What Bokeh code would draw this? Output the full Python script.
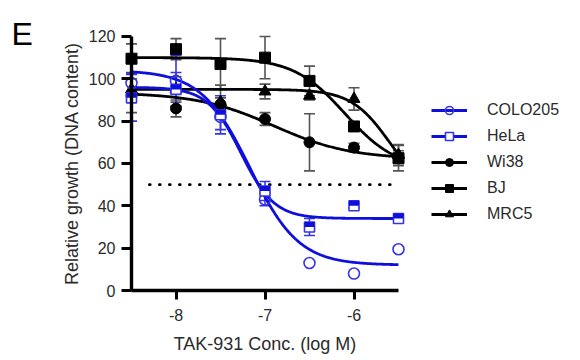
import numpy as np
from bokeh.plotting import figure
from bokeh.models import (ColumnDataSource, Whisker, TeeHead, Legend, LegendItem,
                          Label, FixedTicker, Range1d)
from bokeh.embed import file_html
from bokeh.resources import INLINE

# ---------------- data ----------------
log_conc = [-8.5, -8.0, -7.5, -7.0, -6.5, -6.0, -5.5]

colo205 = [98, 99, 82, 43, 13, 8, 19.5]
colo205_err = [5, 12, 6, 3, 0, 0, 0]
hela = [91, 95, 83, 47, 30, 40, 34]
hela_err = [11, 8, 9, 4.5, 4, 1, 1.5]
wi38 = [92, 86, 88, 81, 70, 67.5, 63]
wi38_err = [8, 4, 3, 3, 13.5, 2, 3]
bj = [109.5, 114, 107, 110, 99, 77.5, 62.5]
bj_err = [7, 5, 12, 10, 7, 2, 6]
mrc5 = [95, 95, 89, 94, 92, 90.5, 64]
mrc5_err = [5, 6, 8, 3.5, 2, 5.3, 5]

# fitted 4-parameter logistic curves: (top, bottom, logIC50, hill slope)
fit_colo205 = (104, 12, -7.17, 1.58)
fit_hela = (96, 34, -7.27, 2.33)
fit_wi38 = (93.5, 62, -6.9, 1.0)
fit_bj = (110, 57, -6.1, 1.5)
fit_mrc5 = (95, 45, -5.6, 2.0)

threshold = 50
threshold_span = (-8.3, -5.5)

x_ticks = [-8, -7, -6]
x_tick_labels = ["-8", "-7", "-6"]
y_ticks = [0, 20, 40, 60, 80, 100, 120]

series_names = ["COLO205", "HeLa", "Wi38", "BJ", "MRC5"]
x_title = "TAK-931 Conc. (log M)"
y_title = "Relative growth (DNA content)"
panel_letter = "E"

# ---------------- styling / geometry ----------------
BLUE = "#0f0fdc"
BLUE_MK = "#3535e8"
BLACK = "#000000"
GREY = "#555555"
TXT = "#2b2b2b"
FONT = "Liberation Sans"

W, H = 570, 356          # canvas size; the plotting frame fills it entirely
AX_X = 131               # canvas px of the y axis (left end of x axis)
AX_Y = 290               # canvas px (from top) of the x axis
PPD = 89.0               # px per log unit
PPU = 2.117              # px per % unit

X0 = log_conc[0] - AX_X / PPD
X1 = X0 + W / PPD
Y0 = y_ticks[0] - (H - AX_Y) / PPU
Y1 = Y0 + H / PPU

p = figure(width=W, height=H, x_range=Range1d(X0, X1), y_range=Range1d(Y0, Y1),
           output_backend="svg", toolbar_location=None, min_border=0)
p.outline_line_color = None
p.grid.visible = False
p.background_fill_color = "white"
p.border_fill_color = "white"


def curve(params):
    top, bottom, ic50, hill = params
    xs = np.linspace(log_conc[0], log_conc[-1], 300)
    ys = bottom + (top - bottom) / (1 + 10 ** ((xs - ic50) * hill))
    return xs, ys


def whiskers(vals, errs, color):
    xs = [x for x, e in zip(log_conc, errs) if e > 0]
    up = [v + e for v, e in zip(vals, errs) if e > 0]
    lo = [v - e for v, e in zip(vals, errs) if e > 0]
    src = ColumnDataSource(dict(x=xs, upper=up, lower=lo))
    w = Whisker(source=src, base="x", upper="upper", lower="lower",
                line_color=color, line_width=1.6,
                upper_head=TeeHead(size=11, line_color=color, line_width=1.6),
                lower_head=TeeHead(size=11, line_color=color, line_width=1.6))
    p.add_layout(w)


# threshold dotted line
p.line(list(threshold_span), [threshold, threshold], line_color=BLACK, line_width=2.6,
       line_dash="1 9", line_cap="round")

# black series
whiskers(wi38, wi38_err, GREY)
whiskers(bj, bj_err, GREY)
whiskers(mrc5, mrc5_err, GREY)

xs, ys = curve(fit_wi38)
l_wi38 = p.line(xs, ys, line_color=BLACK, line_width=2.8)
xs, ys = curve(fit_bj)
l_bj = p.line(xs, ys, line_color=BLACK, line_width=2.8)
xs, ys = curve(fit_mrc5)
l_mrc5 = p.line(xs, ys, line_color=BLACK, line_width=2.8)

m_wi38 = p.scatter(log_conc, wi38, marker="circle", size=11, fill_color=BLACK, line_color=BLACK)
m_bj = p.scatter(log_conc, bj, marker="square", size=11, fill_color=BLACK, line_color=BLACK)
m_mrc5 = p.scatter(log_conc, mrc5, marker="triangle", size=12, fill_color=BLACK, line_color=BLACK)

# blue series
whiskers(colo205, colo205_err, BLUE_MK)
whiskers(hela, hela_err, BLUE_MK)

xs, ys = curve(fit_colo205)
l_colo = p.line(xs, ys, line_color=BLUE, line_width=2.8)
xs, ys = curve(fit_hela)
l_hela = p.line(xs, ys, line_color=BLUE, line_width=2.8)

m_colo = p.scatter(log_conc, colo205, marker="circle", size=11, fill_color=None,
                   line_color=BLUE_MK, line_width=1.6)
m_hela = p.scatter(log_conc, hela, marker="square", size=10, fill_color="white",
                   line_color=BLUE_MK, line_width=1.6)
half_off = 2.5 / PPU
p.rect(log_conc, [v + half_off for v in hela], width=10, height=5,
       width_units="screen", height_units="screen", fill_color=BLUE, line_color=None)

# ---------------- axes (placed at fixed data locations inside the frame) ----------------
for ax in (p.xaxis[0], p.yaxis[0]):
    ax.axis_line_width = 3.4
    ax.axis_line_color = BLACK
    ax.major_tick_line_width = 3
    ax.major_tick_line_color = BLACK
    ax.major_tick_in = 0
    ax.minor_tick_line_color = None
    ax.major_label_text_font = FONT
    ax.major_label_text_font_size = "16px"
    ax.major_label_text_color = TXT
    ax.axis_label = None

xa = p.xaxis[0]
xa.ticker = FixedTicker(ticks=x_ticks)
xa.major_label_overrides = {t: s for t, s in zip(x_ticks, x_tick_labels)}
xa.bounds = (log_conc[0], log_conc[-1])
xa.fixed_location = y_ticks[0]
xa.major_tick_out = 9
xa.major_label_standoff = 9

ya = p.yaxis[0]
ya.ticker = FixedTicker(ticks=y_ticks)
ya.bounds = (y_ticks[0], y_ticks[-1])
ya.fixed_location = log_conc[0]
ya.major_tick_out = 10
ya.major_label_standoff = 6

# axis titles and panel letter
x_mid = (log_conc[0] + log_conc[-1]) / 2
y_mid = (y_ticks[0] + y_ticks[-1]) / 2
p.add_layout(Label(x=x_mid, y=y_ticks[0], y_offset=-53, text=x_title,
                   text_align="center", text_baseline="middle",
                   text_font=FONT, text_font_size="18px", text_color=TXT))
p.add_layout(Label(x=log_conc[0], y=y_mid, x_offset=-60, text=y_title,
                   angle=90, angle_units="deg",
                   text_align="center", text_baseline="middle",
                   text_font=FONT, text_font_size="18px", text_color=TXT))
p.add_layout(Label(x=log_conc[0], y=y_ticks[-1], x_offset=-120, y_offset=2, text=panel_letter,
                   text_align="left", text_baseline="alphabetic",
                   text_font=FONT, text_font_size="32px", text_color=BLACK))

# ---------------- legend ----------------
legend = Legend(items=[
    LegendItem(label=series_names[0], renderers=[l_colo, m_colo]),
    LegendItem(label=series_names[1], renderers=[l_hela, m_hela]),
    LegendItem(label=series_names[2], renderers=[l_wi38, m_wi38]),
    LegendItem(label=series_names[3], renderers=[l_bj, m_bj]),
    LegendItem(label=series_names[4], renderers=[l_mrc5, m_mrc5]),
], location=(431, 132))
legend.border_line_color = None
legend.background_fill_alpha = 0
legend.padding = 0
legend.margin = 0
legend.spacing = 6
legend.glyph_width = 36
legend.glyph_height = 20
legend.label_height = 20
legend.label_standoff = 20
legend.label_text_font = FONT
legend.label_text_font_size = "16px"
legend.label_text_color = TXT
p.add_layout(legend)

open("out.html", "w").write(file_html(p, INLINE))
